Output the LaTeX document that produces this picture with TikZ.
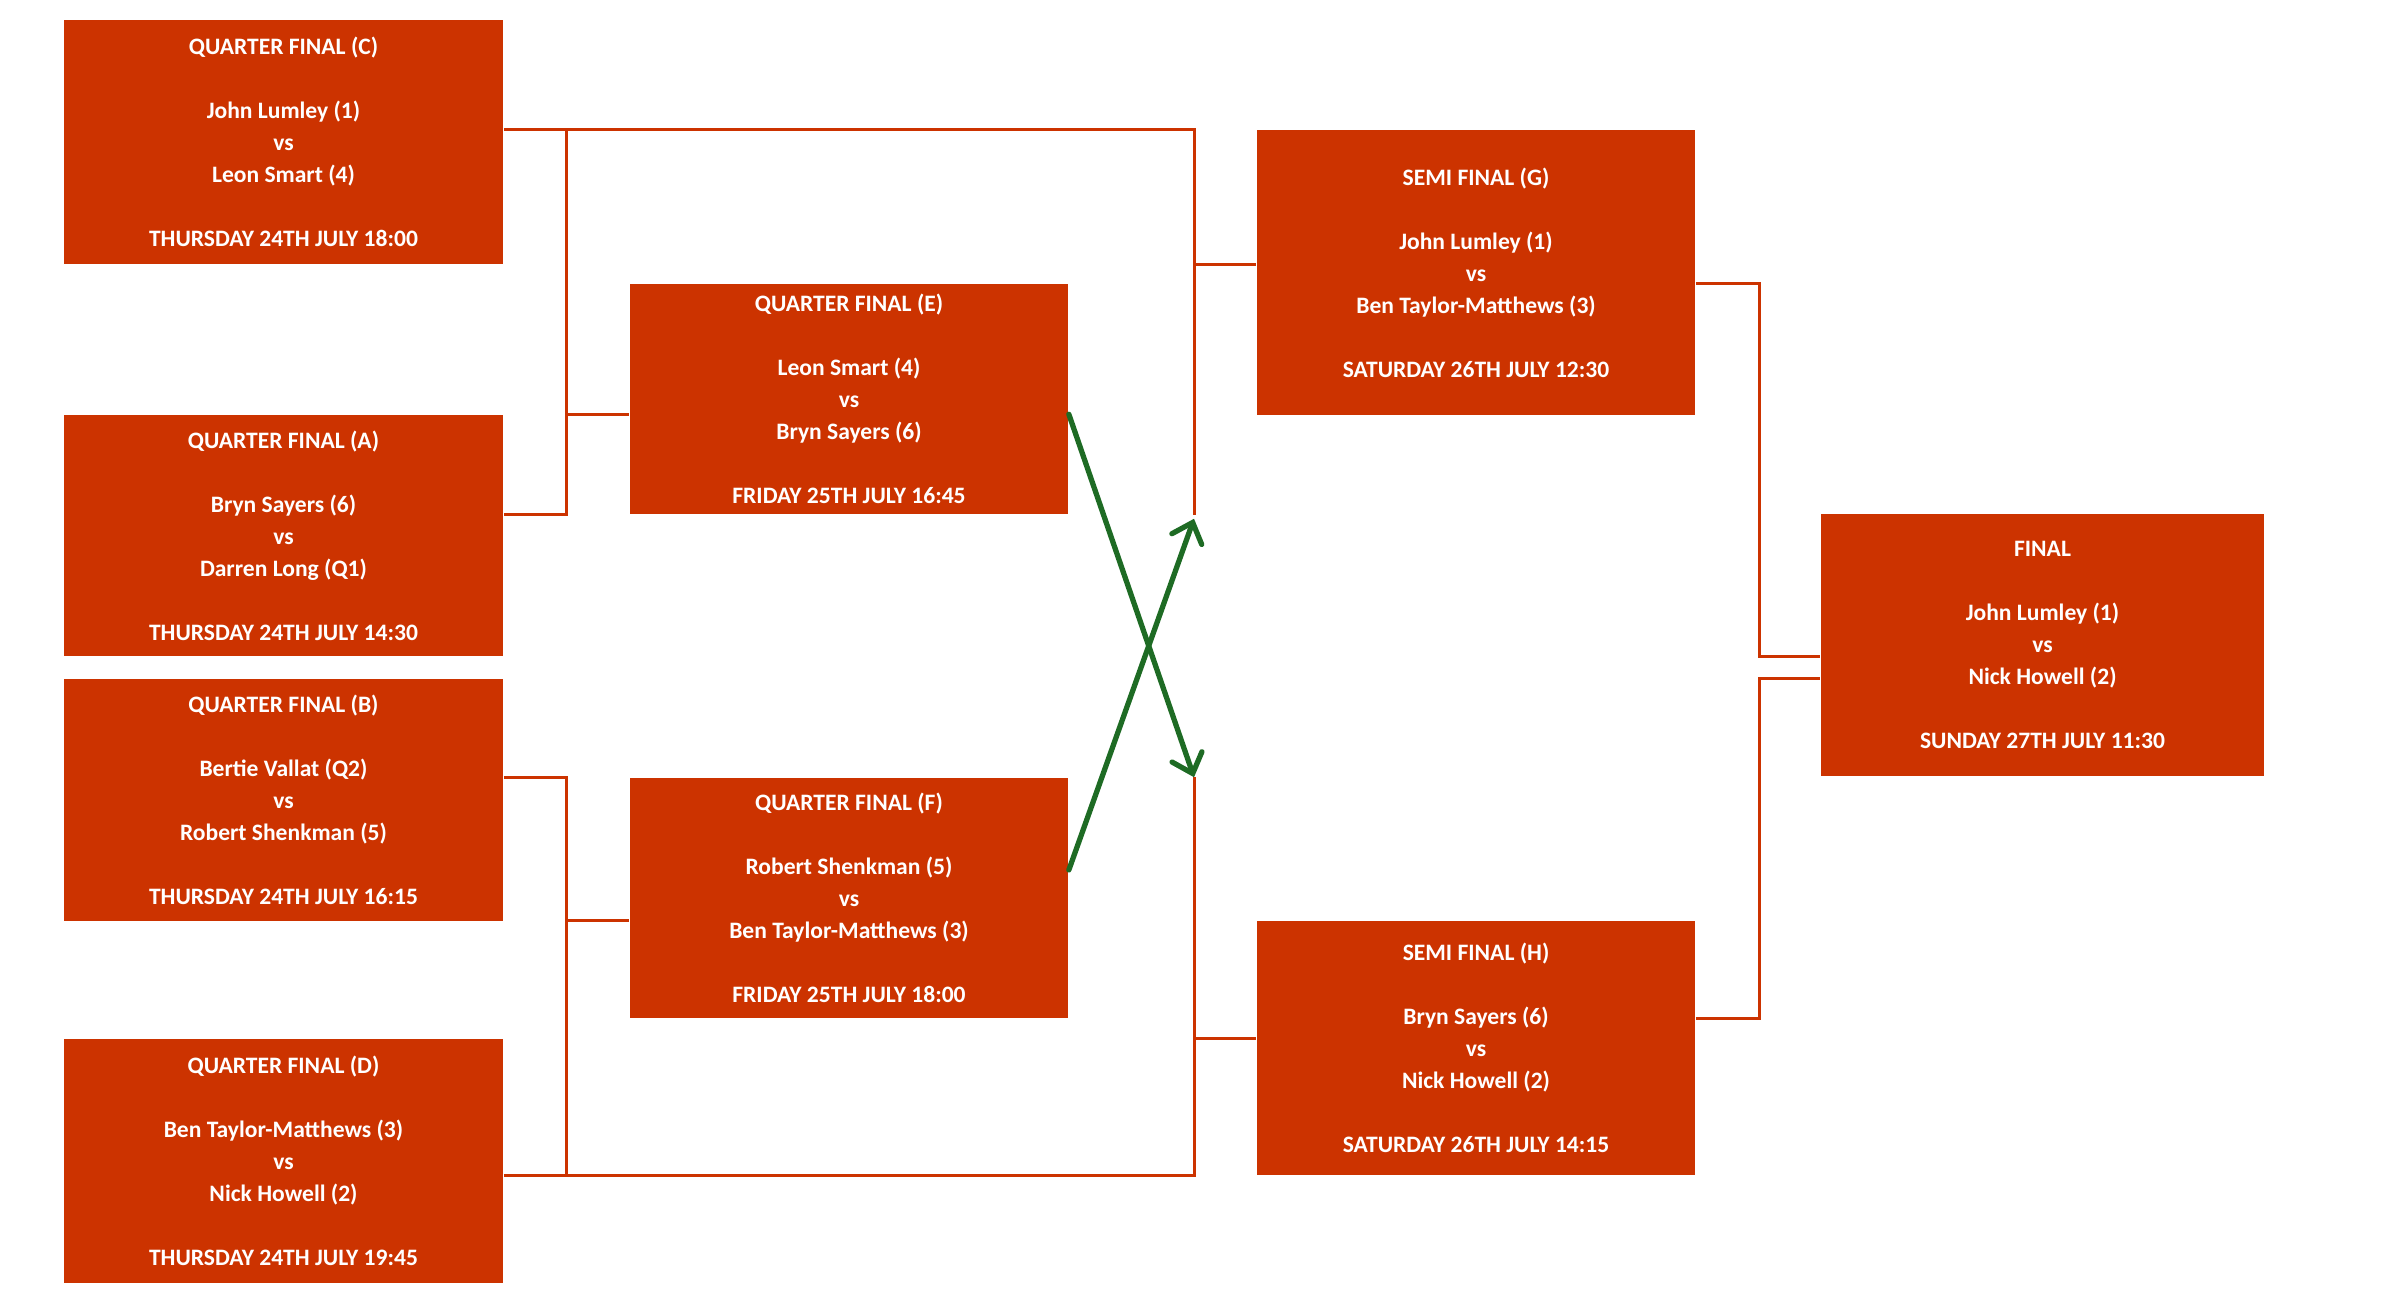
\documentclass[tikz,border=0pt]{standalone}
\usepackage{fontspec}
\setmainfont{Carlito}
\usepackage{xcolor}
\usetikzlibrary{arrows.meta, calc}

\definecolor{matchred}{HTML}{CC3300}
\definecolor{swapgreen}{HTML}{1E6B24}

\tikzset{
  match/.style={rectangle, fill=matchred, text=white, align=center,
                inner sep=0pt, minimum width=4.39cm,
                font=\bfseries\fontsize{6.7}{9.1}\selectfont},
  link/.style={draw=matchred, line width=0.85pt},
  swap/.style={draw=swapgreen, line width=1.5pt, line cap=round,
               -{Straight Barb[length=5pt, width=9pt, line cap=round]}}
}

\newcommand{\gap}{\\[9.1pt]}

\begin{document}
\begin{tikzpicture}[x=0.01cm, y=-0.01cm]
  \useasboundingbox (0,0) rectangle (2392,1304);

  % quarter finals, left column
  \node[match, minimum height=2.44cm] (qfC) at (283.5,142)
    {QUARTER FINAL (C)\gap John Lumley (1)\\vs\\Leon Smart (4)\gap THURSDAY 24TH JULY 18:00};
  \node[match, minimum height=2.41cm] (qfA) at (283.5,535.5)
    {QUARTER FINAL (A)\gap Bryn Sayers (6)\\vs\\Darren Long (Q1)\gap THURSDAY 24TH JULY 14:30};
  \node[match, minimum height=2.42cm] (qfB) at (283.5,800)
    {QUARTER FINAL (B)\gap Bertie Vallat (Q2)\\vs\\Robert Shenkman (5)\gap THURSDAY 24TH JULY 16:15};
  \node[match, minimum height=2.44cm] (qfD) at (283.5,1161)
    {QUARTER FINAL (D)\gap Ben Taylor-Matthews (3)\\vs\\Nick Howell (2)\gap THURSDAY 24TH JULY 19:45};

  % quarter finals, middle column
  \node[match, minimum width=4.38cm, minimum height=2.30cm] (qfE) at (849,399)
    {QUARTER FINAL (E)\gap Leon Smart (4)\\vs\\Bryn Sayers (6)\gap FRIDAY 25TH JULY 16:45};
  \node[match, minimum width=4.38cm, minimum height=2.40cm] (qfF) at (849,898)
    {QUARTER FINAL (F)\gap Robert Shenkman (5)\\vs\\Ben Taylor-Matthews (3)\gap FRIDAY 25TH JULY 18:00};

  % semi finals and final
  \node[match, minimum width=4.38cm, minimum height=2.85cm] (sfG) at (1476,272.5)
    {SEMI FINAL (G)\gap John Lumley (1)\\vs\\Ben Taylor-Matthews (3)\gap SATURDAY 26TH JULY 12:30};
  \node[match, minimum width=4.38cm, minimum height=2.54cm] (sfH) at (1476,1048)
    {SEMI FINAL (H)\gap Bryn Sayers (6)\\vs\\Nick Howell (2)\gap SATURDAY 26TH JULY 14:15};
  \node[match, minimum width=4.43cm, minimum height=2.62cm] (final) at (2042.5,645)
    {FINAL\gap John Lumley (1)\\vs\\Nick Howell (2)\gap SUNDAY 27TH JULY 11:30};

  \coordinate (j1) at (566,0);
  \coordinate (j2) at (1194,0);
  \coordinate (j3) at (1759,0);

  % top half of the bracket
  \draw[link] (qfC.east |- sfG.north) -| (j2 |- qfE.south);
  \draw[link] (j1 |- sfG.north) |- (qfA.east |- qfE.south);
  \draw[link] (j1 |- qfA.north) -- (qfE.west |- qfA.north);
  \draw[link] (j2 |- qfC.south) -- (sfG.west |- qfC.south);

  % bottom half
  \draw[link] (qfD.east |- sfH.south) -| (j2 |- qfF.north);
  \draw[link] (qfB.east |- qfF.north) -| (j1 |- sfH.south);
  \draw[link] (j1 |- sfH.north) -- (qfF.west |- sfH.north);
  \draw[link] (j2 |- qfD.north) -- (sfH.west |- qfD.north);

  % semis to final
  \draw[link] (sfG.east |- qfE.north) -| (j3 |- qfA.south) -- (final.west |- qfA.south);
  \draw[link] (sfH.east |- qfF.south) -| (j3 |- qfB.north) -- (final.west |- qfB.north);

  % crossed winners
  \draw[swap] (qfE.east |- qfA.north) -- (j2 |- qfF.north);
  \draw[swap] ([yshift=0.28cm]qfF.east) -- ([yshift=-0.04cm]j2 |- qfE.south);
\end{tikzpicture}
\end{document}
